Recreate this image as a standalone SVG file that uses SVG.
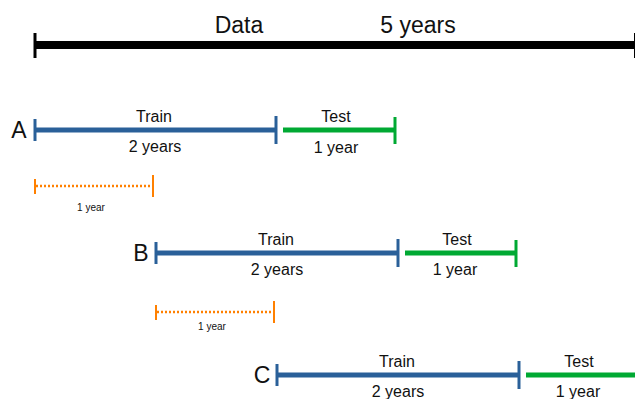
<svg xmlns="http://www.w3.org/2000/svg" width="635" height="399" viewBox="0 0 635 399">
  <style>
    text { font-family: "Liberation Sans", Arial, sans-serif; fill: #111; text-anchor: middle; }
    .big { font-size: 23px; }
    .lbl { font-size: 16px; }
    .small { font-size: 10px; }
    .letter { font-size: 23px; }
    .data { stroke: #000; stroke-width: 8; }
    .data-tick { stroke: #000; stroke-width: 3; }
    .train { stroke: #2a6099; stroke-width: 5; }
    .train-tick { stroke: #2a6099; stroke-width: 3; }
    .test { stroke: #00a933; stroke-width: 5; }
    .test-tick { stroke: #00a933; stroke-width: 3; }
    .step { stroke: #ff8000; stroke-width: 2.5; stroke-dasharray: 2 2; }
    .step-tick { stroke: #ff8000; stroke-width: 2; }
  </style>

  <!-- full data span -->
  <g id="data">
    <line class="data" x1="34" y1="45" x2="635" y2="45"/>
    <line class="data-tick" x1="35" y1="33" x2="35" y2="58"/>
    <line class="data-tick" x1="635.5" y1="33" x2="635.5" y2="58"/>
    <text class="big" x="239" y="33">Data</text>
    <text class="big" x="418" y="33">5 years</text>
  </g>

  <!-- split A -->
  <g id="split-a">
    <text class="letter" x="19" y="138">A</text>
    <line class="train" x1="34" y1="130" x2="276" y2="130"/>
    <line class="train-tick" x1="35" y1="119" x2="35" y2="141"/>
    <line class="train-tick" x1="276" y1="116" x2="276" y2="144"/>
    <text class="lbl" x="154" y="122">Train</text>
    <text class="lbl" x="155" y="152">2 years</text>
    <line class="test" x1="283" y1="130" x2="395" y2="130"/>
    <line class="test-tick" x1="395" y1="117" x2="395" y2="144"/>
    <text class="lbl" x="336" y="122">Test</text>
    <text class="lbl" x="336" y="153">1 year</text>
  </g>

  <!-- step A to B -->
  <g id="step-1">
    <line class="step" x1="36" y1="186" x2="153" y2="186"/>
    <line class="step-tick" x1="35" y1="179" x2="35" y2="194"/>
    <line class="step-tick" x1="153" y1="175" x2="153" y2="197"/>
    <text class="small" x="91" y="211">1 year</text>
  </g>

  <!-- split B -->
  <g id="split-b">
    <text class="letter" x="141" y="261">B</text>
    <line class="train" x1="155" y1="253" x2="398" y2="253"/>
    <line class="train-tick" x1="156" y1="242" x2="156" y2="264"/>
    <line class="train-tick" x1="398" y1="239" x2="398" y2="267"/>
    <text class="lbl" x="276" y="245">Train</text>
    <text class="lbl" x="277" y="275">2 years</text>
    <line class="test" x1="405" y1="253" x2="516" y2="253"/>
    <line class="test-tick" x1="516" y1="240" x2="516" y2="267"/>
    <text class="lbl" x="457" y="245">Test</text>
    <text class="lbl" x="455" y="275">1 year</text>
  </g>

  <!-- step B to C -->
  <g id="step-2">
    <line class="step" x1="157" y1="312" x2="274" y2="312"/>
    <line class="step-tick" x1="156" y1="305" x2="156" y2="320"/>
    <line class="step-tick" x1="274" y1="301" x2="274" y2="323"/>
    <text class="small" x="212" y="330">1 year</text>
  </g>

  <!-- split C -->
  <g id="split-c">
    <text class="letter" x="262" y="383">C</text>
    <line class="train" x1="276" y1="375" x2="519" y2="375"/>
    <line class="train-tick" x1="277" y1="364" x2="277" y2="386"/>
    <line class="train-tick" x1="519" y1="361" x2="519" y2="389"/>
    <text class="lbl" x="397" y="367">Train</text>
    <text class="lbl" x="398" y="397">2 years</text>
    <line class="test" x1="526" y1="375" x2="635" y2="375"/>
    <text class="lbl" x="579" y="367">Test</text>
    <text class="lbl" x="578" y="397">1 year</text>
  </g>
</svg>
